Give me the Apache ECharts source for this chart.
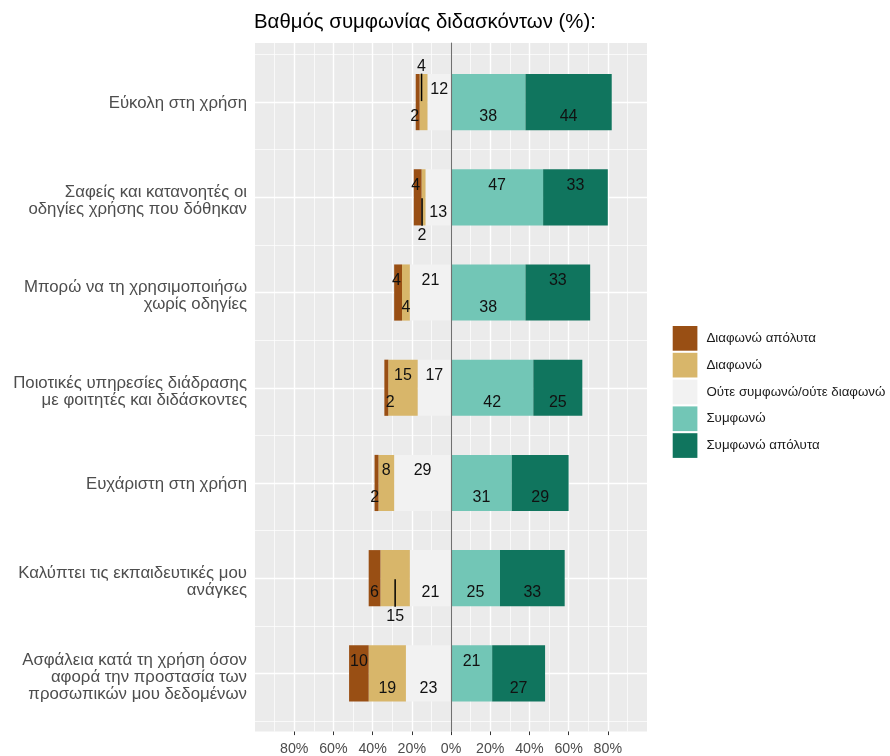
<!DOCTYPE html>
<html>
<head>
<meta charset="utf-8">
<script src="https://cdn.jsdelivr.net/npm/echarts@6.0.0/dist/echarts.min.js"></script>
<style>
  html, body { margin: 0; padding: 0; background: #ffffff; }
  #chart { width: 890px; height: 756px; }
</style>
</head>
<body>
<div id="chart"></div>
<script>
// Survey statements (top to bottom)
const categories = [
  'Εύκολη στη χρήση',
  'Σαφείς και κατανοητές οι\nοδηγίες χρήσης που δόθηκαν',
  'Μπορώ να τη χρησιμοποιήσω\nχωρίς οδηγίες',
  'Ποιοτικές υπηρεσίες διάδρασης\nμε φοιτητές και διδάσκοντες',
  'Ευχάριστη στη χρήση',
  'Καλύπτει τις εκπαιδευτικές μου\nανάγκες',
  'Ασφάλεια κατά τη χρήση όσον\nαφορά την προστασία των\nπροσωπικών μου δεδομένων'
];

// Percentages per response level
const stronglyDisagree = [2, 4, 4, 2, 2, 6, 10];
const disagree         = [4, 2, 4, 15, 8, 15, 19];
const neutral          = [12, 13, 21, 17, 29, 21, 23];
const agree            = [38, 47, 38, 42, 31, 25, 21];
const stronglyAgree    = [44, 33, 33, 25, 29, 33, 27];

const levelNames = [
  'Διαφωνώ απόλυτα',
  'Διαφωνώ',
  'Ούτε συμφωνώ/ούτε διαφωνώ',
  'Συμφωνώ',
  'Συμφωνώ απόλυτα'
];

// Axis tick values (shown as absolute percentages)
const tickValues = [-80, -60, -40, -20, 0, 20, 40, 60, 80];

// Label lanes: u = above centre, d = below, U / D = further out with a leader line
const lanes = {
  stronglyDisagree: ['d', 'u', 'u', 'd', 'd', 'd', 'u'],
  disagree:         ['U', 'D', 'd', 'u', 'u', 'D', 'd'],
  neutral:          ['u', 'd', 'u', 'u', 'u', 'd', 'd'],
  agree:            ['d', 'u', 'd', 'd', 'd', 'd', 'u'],
  stronglyAgree:    ['d', 'u', 'u', 'd', 'd', 'd', 'd']
};
const laneOffset = { u: -12.2, d: 14.8, U: -35.3, D: 38.4 };
const nudgeX = {
  stronglyDisagree: [-3, -2, -1.6, 4, -1.7, 0, 0],
  disagree:         [-2, -1.5, 0, 0, 0, 0, 0]
};

const colors = {
  stronglyDisagree: '#994f14',
  disagree: '#d8b66a',
  neutral: '#f2f2f2',
  agree: '#72c6b6',
  stronglyAgree: '#10755e'
};

const FONT = 'Liberation Sans, Arial, Helvetica, sans-serif';

function barData(values, key, sign) {
  return values.map((v, i) => ({
    value: sign * v,
    label: {
      offset: [(nudgeX[key] ? nudgeX[key][i] : 0), laneOffset[lanes[key][i]]]
    }
  }));
}

function barSeries(name, values, key, sign) {
  return {
    name: name,
    type: 'bar',
    stack: 'likert',
    xAxisIndex: 1,
    yAxisIndex: 1,
    barWidth: '59%',
    itemStyle: { color: colors[key] },
    label: {
      show: true,
      position: 'inside',
      color: '#111111',
      fontSize: 16,
      fontFamily: FONT,
      formatter: p => String(Math.abs(p.value))
    },
    emphasis: { disabled: true },
    data: barData(values, key, sign)
  };
}

// Leader lines for the labels pushed away from their bar
const leaders = [];
Object.keys(lanes).forEach(key => {
  lanes[key].forEach((lane, i) => {
    if (lane === 'U' || lane === 'D') {
      let centre;
      if (key === 'disagree') centre = -(neutral[i] + disagree[i] / 2);
      else if (key === 'stronglyDisagree') centre = -(neutral[i] + disagree[i] + stronglyDisagree[i] / 2);
      else if (key === 'neutral') centre = -neutral[i] / 2;
      else if (key === 'agree') centre = agree[i] / 2;
      else centre = agree[i] + stronglyAgree[i] / 2;
      leaders.push([centre, i, lane === 'U' ? -1 : 1, nudgeX[key] ? nudgeX[key][i] : 0]);
    }
  });
});

// Statement labels: a thin spacer line on top nudges multi-line blocks downwards
function statementLabel(value) {
  const lines = value.split('\n');
  const spacer = lines.length > 1 ? '{g2| }' : '{g1| }';
  return spacer + '\n' + lines.map(l => '{t|' + l + '}').join('\n');
}

const chart = echarts.init(document.getElementById('chart'), null, { renderer: 'canvas' });

chart.setOption({
  animation: false,
  backgroundColor: '#ffffff',
  title: {
    text: 'Βαθμός συμφωνίας διδασκόντων (%):',
    left: 254,
    top: 12,
    padding: 0,
    textStyle: { fontFamily: FONT, fontSize: 20.4, fontWeight: 'normal', color: '#000000' }
  },
  legend: {
    orient: 'vertical',
    left: 672.7,
    top: 326,
    padding: 0,
    itemWidth: 24.7,
    itemHeight: 24.7,
    itemGap: 2.1,
    icon: 'rect',
    selectedMode: false,
    data: levelNames,
    textStyle: { fontFamily: FONT, fontSize: 13.3, color: '#1a1a1a', padding: [0, 0, 0, 4] }
  },
  grid: [
    { // panel
      left: 255, right: 243, top: 43, bottom: 24,
      show: true, backgroundColor: '#ebebeb', borderWidth: 0
    },
    { // data rows
      left: 255, right: 243, top: 54.5, bottom: 35,
      show: false
    }
  ],
  xAxis: [
    {
      gridIndex: 0,
      type: 'value',
      min: -100, max: 100, interval: 20,
      axisLine: { show: false },
      axisTick: {
        show: true, length: 3.6, customValues: tickValues,
        lineStyle: { color: '#333333', width: 1 }
      },
      axisLabel: {
        show: true, customValues: tickValues,
        margin: 10.5,
        fontFamily: FONT, fontSize: 14.2, color: '#4d4d4d',
        formatter: v => Math.abs(v) + '%'
      },
      splitLine: { show: true, lineStyle: { color: '#ffffff', width: 1.4 } },
      minorTick: { show: false, splitNumber: 2 },
      minorSplitLine: { show: true, lineStyle: { color: '#ffffff', width: 0.7 } }
    },
    {
      gridIndex: 1,
      type: 'value',
      min: -100, max: 100,
      show: false
    }
  ],
  yAxis: [
    { // zero reference line across the panel
      gridIndex: 0,
      type: 'value',
      min: 0, max: 1,
      z: 5,
      axisLine: { show: true, onZero: true, lineStyle: { color: '#707070', width: 1.1 } },
      axisTick: { show: false },
      axisLabel: { show: false },
      splitLine: { show: false }
    },
    { // statements
      gridIndex: 1,
      type: 'category',
      inverse: true,
      data: categories,
      axisLine: { show: false },
      axisTick: { show: true, alignWithLabel: true, length: 4, lineStyle: { color: '#333333', width: 1 } },
      axisLabel: {
        margin: 8,
        interval: 0,
        align: 'right',
        formatter: statementLabel,
        rich: {
          t: { fontFamily: FONT, fontSize: 16.8, color: '#4d4d4d', lineHeight: 17, align: 'right' },
          g1: { fontSize: 1, lineHeight: 3 },
          g2: { fontSize: 1, lineHeight: 7.5 }
        }
      },
      splitLine: { show: false }
    },
    { // row grid lines
      gridIndex: 1,
      type: 'value',
      min: 0, max: 7, interval: 1,
      axisLine: { show: false },
      axisTick: { show: false },
      axisLabel: { show: false },
      splitLine: { show: true, lineStyle: { color: '#ffffff', width: 0.7 } },
      minorTick: { show: false, splitNumber: 2 },
      minorSplitLine: { show: true, lineStyle: { color: '#ffffff', width: 1.4 } }
    }
  ],
  series: [
    barSeries(levelNames[2], neutral, 'neutral', -1),
    barSeries(levelNames[1], disagree, 'disagree', -1),
    barSeries(levelNames[0], stronglyDisagree, 'stronglyDisagree', -1),
    barSeries(levelNames[3], agree, 'agree', 1),
    barSeries(levelNames[4], stronglyAgree, 'stronglyAgree', 1),
    {
      type: 'custom',
      xAxisIndex: 1,
      yAxisIndex: 1,
      silent: true,
      z: 6,
      encode: { x: 0, y: 1 },
      data: leaders,
      renderItem: function (params, api) {
        const p = api.coord([api.value(0), api.value(1)]);
        const x = p[0] + api.value(3);
        const dir = api.value(2);
        return {
          type: 'line',
          shape: { x1: x, y1: p[1] + dir * 1, x2: x, y2: p[1] + dir * 28.5 },
          style: { stroke: '#000000', lineWidth: 1.5 }
        };
      }
    }
  ]
});
</script>
</body>
</html>
